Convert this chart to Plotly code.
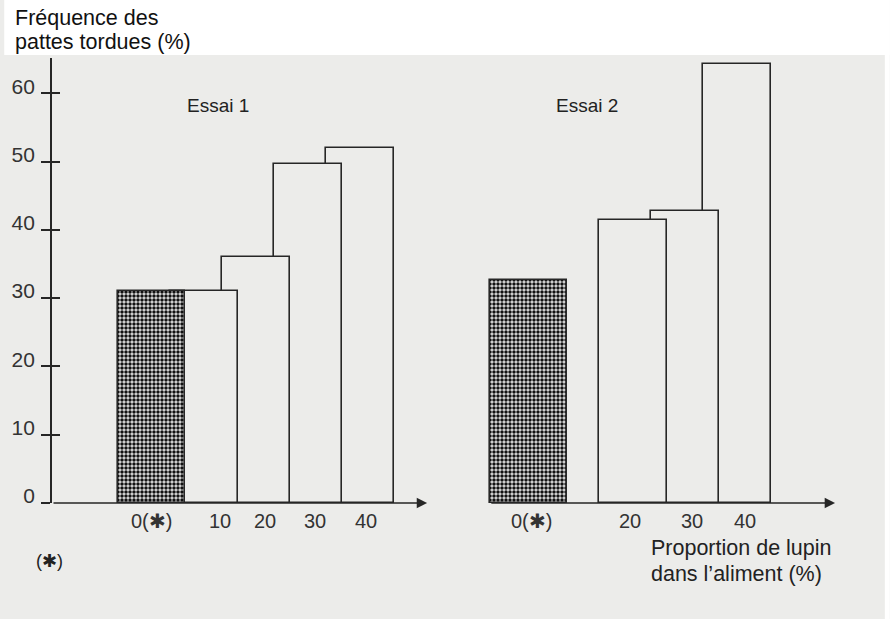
import plotly.graph_objects as go

# ---- data ----
essai1_labels = ["0(✱)", "10", "20", "30", "40"]
essai1_values = [31, 31, 36, 49.7, 52]
essai2_labels = ["0(✱)", "20", "30", "40"]
essai2_values = [32.6, 41.4, 42.7, 64.3]
y_ticks = [0, 10, 20, 30, 40, 50, 60]

# ---- layout constants ----
W, H = 890, 619
ML, MR, MT, MB = 48, 40, 58, 116
PW, PH = W - ML - MR, H - MT - MB
UNIT = 52.4                 # px per slot
X0 = -(148 - ML) / UNIT     # x range start
X1 = X0 + PW / UNIT
YMAX = PH / 6.83
E2_OFF = (527 - 148) / UNIT
BAR_W = 68.5 / UNIT
HATCH_W1 = 68 / UNIT
HATCH_W2 = 78 / UNIT
e1_pos = [0, 1, 2, 3, 4]
e2_pos = [E2_OFF + p for p in [0, 2, 3, 4]]
e1_shift = [0, 16, 9, 7, 6]
e2_shift = [3, -3, 7, 8]

BG = "#ececea"
INK = "#262626"
FONT = "Liberation Sans, Arial, sans-serif"


def px2x(px):
    return (px - ML) / PW


def py2y(py):
    return (H - MB - py) / PH


def dx(px):
    return (px - 148) / UNIT


fig = go.Figure()


def add_bar(x, y, w, hatched):
    marker = dict(color=BG, line=dict(color=INK, width=1.6))
    if hatched:
        marker["pattern"] = dict(shape=".", fgcolor="#111111", bgcolor="#e4e4e4",
                                 size=4, solidity=0.6, fillmode="replace")
    fig.add_trace(go.Bar(x=[x], y=[y], width=[w], marker=marker,
                         showlegend=False, hoverinfo="skip"))


# draw right-to-left so left bars sit in front
for i in reversed(range(len(essai1_values))):
    add_bar(e1_pos[i], essai1_values[i], HATCH_W1 if i == 0 else BAR_W, i == 0)
for i in reversed(range(len(essai2_values))):
    add_bar(e2_pos[i], essai2_values[i], HATCH_W2 if i == 0 else BAR_W, i == 0)

annotations = []
# category labels
for lab, p, s in zip(essai1_labels, e1_pos, e1_shift):
    annotations.append(dict(x=p, y=py2y(520.5), xref="x", yref="paper", text=lab,
                            showarrow=False, xshift=s, xanchor="center", yanchor="middle",
                            font=dict(family=FONT, size=20, color="#333")))
for lab, p, s in zip(essai2_labels, e2_pos, e2_shift):
    annotations.append(dict(x=p, y=py2y(520.5), xref="x", yref="paper", text=lab,
                            showarrow=False, xshift=s, xanchor="center", yanchor="middle",
                            font=dict(family=FONT, size=20, color="#333")))

# baseline arrows
for x_from, x_to in [(X0, dx(425)), (dx(488), dx(835))]:
    annotations.append(dict(x=x_to, y=0, ax=x_from, ay=0, xref="x", yref="y",
                            axref="x", ayref="y", text="", showarrow=True,
                            arrowhead=2, arrowsize=1.3, arrowwidth=1.6,
                            arrowcolor=INK, standoff=0, startstandoff=0))

texts = [
    ("Fréquence des", 9, 18, 21.5, "#111"),
    ("pattes tordues (%)", 9, 42, 21.5, "#111"),
    ("Essai 1", 182, 106, 19, "#222"),
    ("Essai 2", 553, 105, 19, "#222"),
    ("(✱)", 30, 561, 18, "#222"),
    ("Proportion de lupin", 648, 548, 21.5, "#222"),
    ("dans l’aliment (%)", 648, 574, 21.5, "#222"),
]
for t, px, py, sz, col in texts:
    annotations.append(dict(x=px2x(px), y=py2y(py), xref="paper", yref="paper", text=t,
                            showarrow=False, xanchor="left", yanchor="middle",
                            font=dict(family=FONT, size=sz, color=col)))

shapes = [
    dict(type="rect", xref="paper", yref="paper", x0=px2x(0), x1=px2x(W),
         y0=py2y(55), y1=py2y(0), fillcolor="white", line=dict(width=0), layer="below"),
    dict(type="rect", xref="paper", yref="paper", x0=px2x(885), x1=px2x(W),
         y0=py2y(H), y1=py2y(0), fillcolor="white", line=dict(width=0), layer="below"),
]

fig.update_layout(
    width=W, height=H,
    margin=dict(l=ML, r=MR, t=MT, b=MB),
    paper_bgcolor=BG, plot_bgcolor=BG,
    barmode="overlay", bargap=0,
    showlegend=False,
    xaxis=dict(range=[X0, X1], visible=False, fixedrange=True),
    yaxis=dict(range=[0, YMAX], tickvals=y_ticks, ticks="outside", ticklen=9,
               tickwidth=1.6, tickcolor=INK, showline=True, linecolor=INK,
               linewidth=1.8, showgrid=False, zeroline=False, ticklabelshift=-7,
               ticklabelstandoff=2,
               tickfont=dict(family=FONT, size=21, color="#333")),
    yaxis2=dict(range=[0, YMAX], overlaying="y", side="left", anchor="x",
                tickvals=y_ticks, ticks="inside", ticklen=8, tickwidth=1.6,
                tickcolor=INK, showticklabels=False, showline=False,
                showgrid=False, zeroline=False),
    annotations=annotations,
    shapes=shapes,
)
# dummy trace to activate yaxis2
fig.add_trace(go.Scatter(x=[X0], y=[0], yaxis="y2", mode="markers",
                         marker=dict(opacity=0), showlegend=False, hoverinfo="skip"))

fig.write_html("out.html", config={"displayModeBar": False},
               post_script="document.body.style.margin='0px';")
